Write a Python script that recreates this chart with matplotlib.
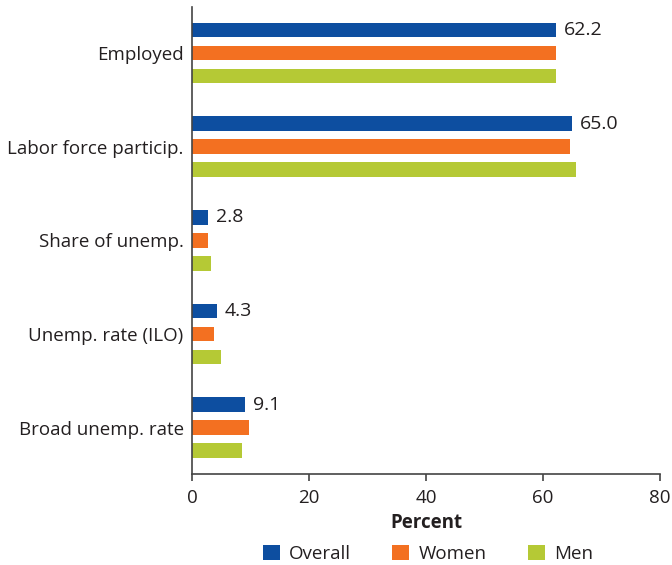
import matplotlib
matplotlib.use("Agg")
import matplotlib.pyplot as plt
from matplotlib.patches import Patch
import numpy as np

plt.rcParams['font.family'] = ['Open Sans', 'DejaVu Sans']

categories = ["Employed", "Labor force particip.", "Share of unemp.",
              "Unemp. rate (ILO)", "Broad unemp. rate"]
series_names = ["Overall", "Women", "Men"]
overall = [62.2, 65.0, 2.8, 4.3, 9.1]
women = [62.3, 64.6, 2.8, 3.8, 9.8]
men = [62.2, 65.7, 3.3, 4.9, 8.6]
overall_labels = ["62.2", "65.0", "2.8", "4.3", "9.1"]
xticks = [0, 20, 40, 60, 80]

colors = ["#0D4EA0", "#F37021", "#B5C935"]
text_color = "#231F20"
fs = 13.5

fig = plt.figure(figsize=(6.72, 5.65), dpi=100)
ax = fig.add_axes([192/672, 1-473.7/565, 468/672, (473.7-7)/565])

y = np.arange(len(categories))
pitch = 0.245
h = 0.157
for i, (vals, c, name) in enumerate(zip([overall, women, men], colors, series_names)):
    ax.barh(y + (i-1)*pitch, vals, height=h, color=c, label=name)

for yi, v, lab in zip(y, overall, overall_labels):
    ax.text(v + 1.3, yi - pitch, lab, va='center', ha='left', fontsize=14, color=text_color)

ax.set_xlim(0, 80)
ax.set_ylim(4.49, -0.49)
ax.set_yticks(y)
ax.set_yticklabels(categories, fontsize=fs, color=text_color)
ax.tick_params(axis='y', length=0, pad=6)
ax.set_xticks(xticks)
ax.set_xticklabels([str(t) for t in xticks], fontsize=fs, color=text_color)
ax.tick_params(axis='x', direction='out', length=5, width=1.2, color='#444444', pad=6)
for s in ['top', 'right']:
    ax.spines[s].set_visible(False)
for s in ['left', 'bottom']:
    ax.spines[s].set_color('#444444')
    ax.spines[s].set_linewidth(1.2)
ax.set_xlabel("Percent", fontsize=fs, fontweight='bold', color=text_color, labelpad=4)

handles = [Patch(facecolor=c, edgecolor='none') for c in colors]
fig.legend(handles, series_names, loc='center', bbox_to_anchor=(428/672, 1-554/565),
           ncol=3, frameon=False, fontsize=fs, handlelength=0.9, handleheight=0.9,
           handletextpad=0.5, columnspacing=2.2, labelcolor=text_color)

fig.savefig("out.png", dpi=100)
